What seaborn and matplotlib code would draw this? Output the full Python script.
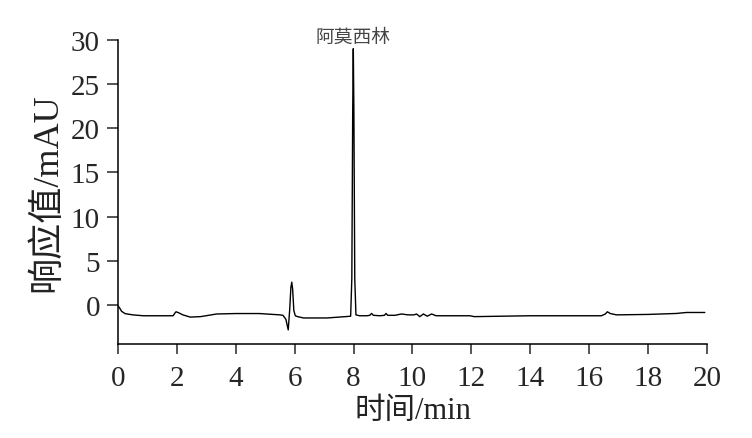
import matplotlib
matplotlib.use("Agg")
import matplotlib.pyplot as plt
import seaborn as sns
import pandas as pd

# ── Data ──────────────────────────────────────────────────────────────────────
time_min = [0.0, 0.05, 0.12, 0.24, 0.5, 0.85, 1.4, 1.87, 1.93, 1.97, 2.05,
            2.2, 2.45, 2.8, 3.35, 4.0, 4.8, 5.5, 5.6, 5.7, 5.78, 5.83, 5.87,
            5.9, 5.93, 5.97, 6.02, 6.1, 6.3, 7.1, 7.8, 7.9, 7.94, 7.97, 7.99,
            8.01, 8.04, 8.08, 8.2, 8.45, 8.55, 8.61, 8.67, 8.9, 9.05, 9.1,
            9.16, 9.4, 9.63, 9.85, 10.05, 10.14, 10.25, 10.37, 10.5, 10.65,
            10.8, 11.5, 11.95, 12.1, 14.0, 16.42, 16.55, 16.62, 16.72, 16.93,
            18.0, 18.97, 19.3, 19.93]
response_mau = [-0.1, -0.3, -0.7, -0.96, -1.1, -1.2, -1.2, -1.2, -0.9, -0.75,
                -0.85, -1.1, -1.35, -1.3, -1.0, -0.95, -0.95, -1.1, -1.15,
                -1.6, -2.8, -0.5, 2.0, 2.6, 1.8, -0.6, -1.2, -1.3, -1.45,
                -1.45, -1.28, -1.25, 3.0, 22.0, 29.0, 22.0, 3.0, -1.1, -1.2,
                -1.2, -1.15, -0.94, -1.15, -1.2, -1.15, -0.94, -1.15, -1.15,
                -1.0, -1.1, -1.1, -1.0, -1.3, -1.0, -1.25, -1.0, -1.2, -1.2,
                -1.2, -1.3, -1.2, -1.2, -1.0, -0.75, -0.95, -1.1, -1.05,
                -0.94, -0.83, -0.83]
peak_name = "阿莫西林"
peak_time = 7.99
peak_height = 29.0

df = pd.DataFrame({"time": time_min, "response": response_mau})

# ── Plot ─────────────────────────────────────────────────────────────────────
sns.set_style("ticks")
plt.rcParams['font.family'] = ['Liberation Serif', 'Noto Sans CJK SC']
plt.rcParams['axes.unicode_minus'] = False

fig = plt.figure(figsize=(7.52, 4.39), dpi=100)
ax = fig.add_axes([0.157, 0.214, 0.783, 0.693])

sns.lineplot(data=df, x="time", y="response", color="black",
             linewidth=1.0, ax=ax, estimator=None, sort=False)

ax.text(peak_time, peak_height + 0.2, peak_name, ha="center", va="bottom",
        fontsize=13.5, color="#444444", family=['Noto Sans CJK SC'])

ax.set_xlim(0, 20)
ax.set_ylim(-4.4, 30)
ax.set_xticks(range(0, 21, 2))
ax.set_yticks(range(0, 31, 5))

ax.set_xlabel("时间/min", fontsize=22, labelpad=4, color="#222222")
ax.set_ylabel("响应值/mAU", fontsize=26, labelpad=5, color="#222222")
ax.tick_params(axis="x", labelsize=21, length=7, width=1.1, direction="out", pad=8)
ax.tick_params(axis="y", labelsize=21, length=8, width=1.1, direction="out", pad=5)

sns.despine(ax=ax)
for side in ["left", "bottom"]:
    ax.spines[side].set_linewidth(1.1)
    ax.spines[side].set_color("black")

fig.savefig("out.png", dpi=100)
